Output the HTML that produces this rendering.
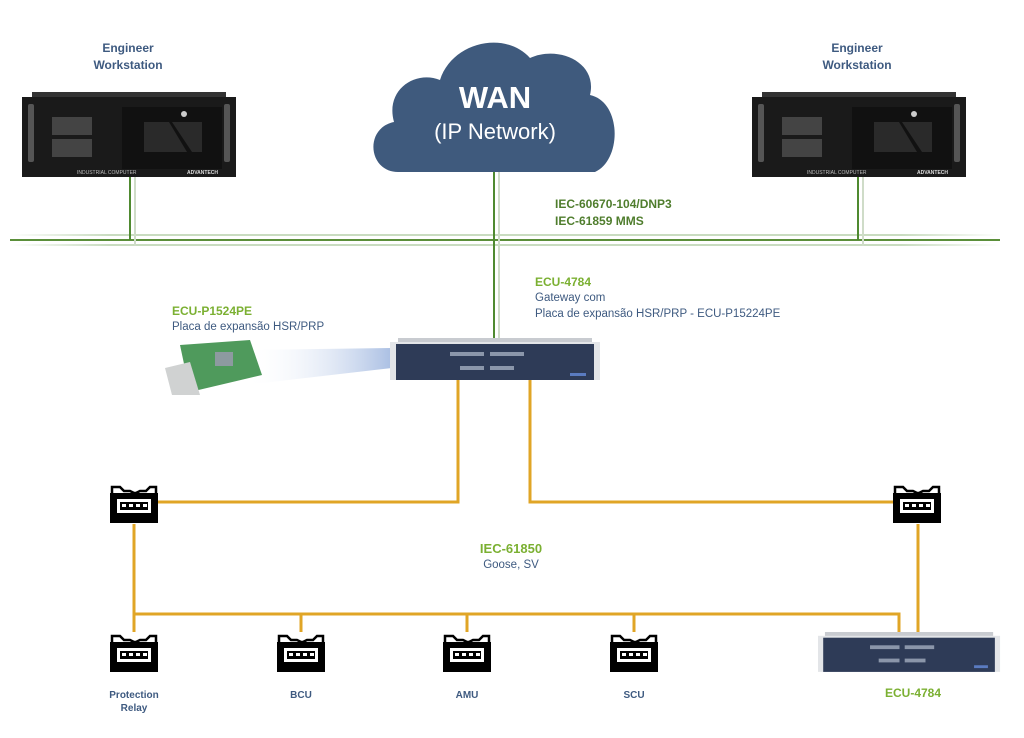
<!DOCTYPE html>
<html><head><meta charset="utf-8"><style>
html,body{margin:0;padding:0;background:#fff;}
svg{display:block;font-family:"Liberation Sans",sans-serif;}
.b{font-weight:bold;}
</style></head><body>
<svg width="1024" height="738" viewBox="0 0 1024 738" xmlns="http://www.w3.org/2000/svg">
<defs>
<linearGradient id="beam" x1="0" x2="1" y1="0" y2="0">
<stop offset="0" stop-color="#fff" stop-opacity="0"/><stop offset="1" stop-color="#aabfe3"/></linearGradient>
<linearGradient id="hl" x1="0" x2="1"><stop offset="0" stop-color="#c9dcc0" stop-opacity="0"/><stop offset="0.1" stop-color="#c9dcc0"/><stop offset="0.9" stop-color="#c9dcc0"/><stop offset="1" stop-color="#c9dcc0" stop-opacity="0"/></linearGradient>
<g id="sw">
<path d="M2 10 V4 H10 L14 8 H20 L24 10 H26 L30 8 H36 L40 4 H46 V10" fill="none" stroke="#000" stroke-width="2.5"/>
<rect x="0" y="10" width="48" height="30" fill="#000"/>
<rect x="7" y="16" width="34" height="14" fill="#fff"/>
<rect x="10" y="19" width="28" height="8" fill="#000"/>
<g fill="#fff"><rect x="12" y="21" width="4" height="3"/><rect x="19" y="21" width="4" height="3"/><rect x="26" y="21" width="4" height="3"/><rect x="33" y="21" width="4" height="3"/></g>
</g>
<g id="ws">
<rect x="10" y="0" width="194" height="6" fill="#333"/>
<rect x="0" y="5" width="214" height="80" fill="#1a1a1a"/>
<rect x="6" y="12" width="6" height="58" rx="2" fill="#555"/>
<rect x="202" y="12" width="6" height="58" rx="2" fill="#555"/>
<g fill="#444"><rect x="30" y="25" width="40" height="18"/><rect x="30" y="47" width="40" height="18"/></g>
<rect x="100" y="15" width="100" height="62" fill="#111"/>
<path d="M122 30 H147 L165 60 H122 Z" fill="#2a2a2a"/><path d="M150 30 H180 V60 H170 Z" fill="#2a2a2a"/>
<circle cx="162" cy="22" r="3" fill="#ccc"/>
<text x="55" y="82" font-size="5" fill="#bbb">INDUSTRIAL COMPUTER</text>
<text x="165" y="82" font-size="5" fill="#ddd" class="b">ADVANTECH</text>
</g>
<g id="gw">
<rect x="8" y="0" width="194" height="6" fill="#c8cbd0"/>
<rect x="0" y="4" width="210" height="38" fill="#e3e5e8"/>
<rect x="6" y="6" width="198" height="36" fill="#2e3b57"/>
<g fill="#8b96aa"><rect x="60" y="14" width="34" height="4"/><rect x="100" y="14" width="34" height="4"/><rect x="70" y="28" width="24" height="4"/><rect x="100" y="28" width="24" height="4"/></g>
<rect x="180" y="35" width="16" height="3" fill="#5a7bc0"/>
</g>
</defs>

<rect x="10" y="234" width="990" height="2" fill="url(#hl)"/>
<rect x="10" y="244" width="990" height="2" fill="url(#hl)"/>
<line x1="10" y1="240" x2="1000" y2="240" stroke="#5b8f3a" stroke-width="2"/>
<line x1="130" y1="176" x2="130" y2="240" stroke="#4f8a30" stroke-width="2"/>
<line x1="135" y1="176" x2="135" y2="246" stroke="#cfdcc8" stroke-width="2"/>
<line x1="858" y1="176" x2="858" y2="240" stroke="#4f8a30" stroke-width="2"/>
<line x1="863" y1="176" x2="863" y2="246" stroke="#cfdcc8" stroke-width="2"/>
<line x1="494" y1="165" x2="494" y2="340" stroke="#4f8a30" stroke-width="2"/>
<line x1="499" y1="165" x2="499" y2="340" stroke="#cfdcc8" stroke-width="2"/>

<path d="M398 172 C368 172 364 128 394 122 C385 90 415 70 440 80 C452 42 505 30 530 58 C558 45 598 62 590 95 C622 102 622 160 595 172 Z" fill="#3f5a7d"/>
<text x="495" y="108" font-size="31" fill="#fff" class="b" text-anchor="middle">WAN</text>
<text x="495" y="139" font-size="22" fill="#fff" text-anchor="middle">(IP Network)</text>

<text x="128" y="52" font-size="12" fill="#3e5a80" class="b" text-anchor="middle">Engineer</text>
<text x="128" y="69" font-size="12" fill="#3e5a80" class="b" text-anchor="middle">Workstation</text>
<text x="857" y="52" font-size="12" fill="#3e5a80" class="b" text-anchor="middle">Engineer</text>
<text x="857" y="69" font-size="12" fill="#3e5a80" class="b" text-anchor="middle">Workstation</text>
<use href="#ws" x="22" y="92"/>
<use href="#ws" x="752" y="92"/>

<text x="555" y="208" font-size="12" fill="#4f7d2d" class="b">IEC-60670-104/DNP3</text>
<text x="555" y="225" font-size="12" fill="#4f7d2d" class="b">IEC-61859 MMS</text>

<text x="535" y="286" font-size="12" fill="#7bb032" class="b">ECU-4784</text>
<text x="535" y="301" font-size="11.5" fill="#3e5a80">Gateway com</text>
<text x="535" y="317" font-size="11.5" fill="#3e5a80">Placa de expansão HSR/PRP - ECU-P15224PE</text>
<text x="172" y="315" font-size="12" fill="#7bb032" class="b">ECU-P1524PE</text>
<text x="172" y="330" font-size="11.5" fill="#3e5a80">Placa de expansão HSR/PRP</text>

<polygon points="245,350 392,348 392,368 245,385" fill="url(#beam)"/>
<polygon points="180,345 250,340 262,375 190,392" fill="#4f9a5c"/>
<polygon points="165,368 190,362 200,395 172,395" fill="#d0d2d2"/>
<rect x="215" y="352" width="18" height="14" fill="#8d9aa0"/>

<g stroke="#e0a526" stroke-width="3" fill="none">
<polyline points="458,378 458,502 158,502"/>
<polyline points="530,378 530,502 893,502"/>
<polyline points="134,524 134,632"/>
<polyline points="918,524 918,634"/>
<polyline points="134,614 899,614 899,634"/>
<line x1="301" y1="614" x2="301" y2="632"/>
<line x1="467" y1="614" x2="467" y2="632"/>
<line x1="634" y1="614" x2="634" y2="632"/>
</g>
<use href="#gw" x="390" y="338"/>
<use href="#gw" transform="translate(818,632) scale(0.867,0.95)"/>

<use href="#sw" x="110" y="483"/>
<use href="#sw" x="893" y="483"/>
<use href="#sw" x="110" y="632"/>
<use href="#sw" x="277" y="632"/>
<use href="#sw" x="443" y="632"/>
<use href="#sw" x="610" y="632"/>

<text x="511" y="553" font-size="13" fill="#7bb032" class="b" text-anchor="middle">IEC-61850</text>
<text x="511" y="568" font-size="11.5" fill="#3e5a80" text-anchor="middle">Goose, SV</text>

<text x="134" y="698" font-size="10" fill="#3e5a80" class="b" text-anchor="middle">Protection</text>
<text x="134" y="711" font-size="10" fill="#3e5a80" class="b" text-anchor="middle">Relay</text>
<text x="301" y="698" font-size="10" fill="#3e5a80" class="b" text-anchor="middle">BCU</text>
<text x="467" y="698" font-size="10" fill="#3e5a80" class="b" text-anchor="middle">AMU</text>
<text x="634" y="698" font-size="10" fill="#3e5a80" class="b" text-anchor="middle">SCU</text>
<text x="913" y="697" font-size="12" fill="#7bb032" class="b" text-anchor="middle">ECU-4784</text>
</svg>
</body></html>
